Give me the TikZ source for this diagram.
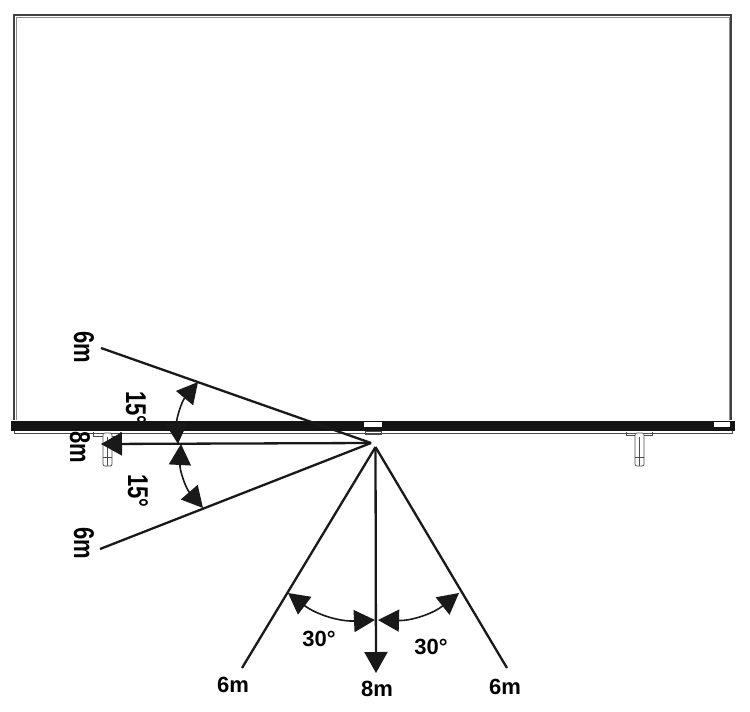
\documentclass[tikz,border=0pt]{standalone}
\usepackage{fontspec}
\setmainfont{Liberation Sans}
\usetikzlibrary{arrows.meta}
\tikzset{
  ray/.style={draw=black!90, line width=2.3pt},
  bigtip/.style={-{Triangle[length=21pt,width=23pt]}},
  bothtip/.style={{Triangle[length=21pt,width=22pt]}-{Triangle[length=21pt,width=22pt]}},
  dist/.style={font=\fontsize{22}{22}\selectfont\bfseries, inner sep=0pt},
  sidedist/.style={dist, transform shape, rotate=-90, yscale=1.3},
  thinline/.style={draw=black!70, line width=0.7pt}
}
\begin{document}
\begin{tikzpicture}[x=1pt,y=-1pt]
\useasboundingbox (0,0) rectangle (750,712);
% screen
\draw[draw=black!75, line width=1.1pt] (14,420) -- (14,15) -- (731,15) -- (731,420);
\draw[draw=black!45, line width=0.7pt] (16,420) -- (16,17) -- (729,17) -- (729,420);
% upper 15 label goes behind the bar
\node[sidedist] (upperangle) at (136,408) {15°};
% bottom bar
\fill[black!92] (11,421) rectangle (735,431);
\fill[white] (364,422) rectangle (382,426.5);
\fill[white] (714,422) rectangle (730,426.5);
\draw[thinline] (14,431) -- (14,433) -- (732,433) -- (732,431);
\draw[thinline] (365,431) rectangle (381,434);
% stands
\draw[thinline] (93,432) -- (93,436) -- (120,436) -- (120,432);
\draw[thinline, fill=white, rounded corners=2pt] (103,433) rectangle (112,466);
\draw[thinline] (107.5,437) -- (107.5,466) (103,457) -- (112,457);
\draw[thinline] (626,432) -- (626,435) -- (652,435) -- (652,432);
\draw[thinline, fill=white, rounded corners=2pt] (635,433) rectangle (644,466);
\draw[thinline] (639.5,437) -- (639.5,466) (635,457) -- (644,457);
% rays
\coordinate (apexleft) at (371,443);
\coordinate (apexdown) at (375.5,447);
\coordinate (endtop) at (101,348);
\coordinate (endbottom) at (100,549);
\coordinate (endleft) at (101,444);
\coordinate (endsw) at (242,668);
\coordinate (endse) at (507,668);
\coordinate (enddown) at (376,673);
\draw[ray] (apexleft) -- (endtop);
\draw[ray] (apexleft) -- (endbottom);
\draw[ray, bigtip] (apexleft) -- (endleft);
\draw[ray] (apexdown) -- (endsw);
\draw[ray] (apexdown) -- (endse);
\draw[ray, bigtip] (apexdown) -- (enddown);
% angle arrows
\coordinate (tipa) at (198,382);
\coordinate (tipb) at (178,444);
\coordinate (tipc) at (181,444);
\coordinate (tipd) at (203,508);
\coordinate (tipe) at (288,593);
\coordinate (tipf) at (375,620);
\coordinate (tipg) at (378,620);
\coordinate (tiph) at (459,593);
\draw[ray, bothtip, line width=1.6pt] (tipa) to[bend right=22] (tipb);
\draw[ray, bothtip, line width=1.6pt] (tipc) to[bend right=22] (tipd);
\draw[ray, bothtip, line width=1.6pt] (tipe) to[bend right=20] (tipf);
\draw[ray, bothtip, line width=1.6pt] (tipg) to[bend right=20] (tiph);
% labels
\node[sidedist] (sixtop) at (84,347) {6m};
\node[sidedist] (sixbottom) at (84,543) {6m};
\node[sidedist] (eightleft) at (80,447) {8m};
\node[sidedist] (lowerangle) at (138,491) {15°};
\node[dist] (leftangle) at (319,639) {30°};
\node[dist] (rightangle) at (431,647) {30°};
\node[dist] (sixleft) at (233,685) {6m};
\node[dist] (eightdown) at (377,689) {8m};
\node[dist] (sixright) at (505,687) {6m};
\end{tikzpicture}
\end{document}
